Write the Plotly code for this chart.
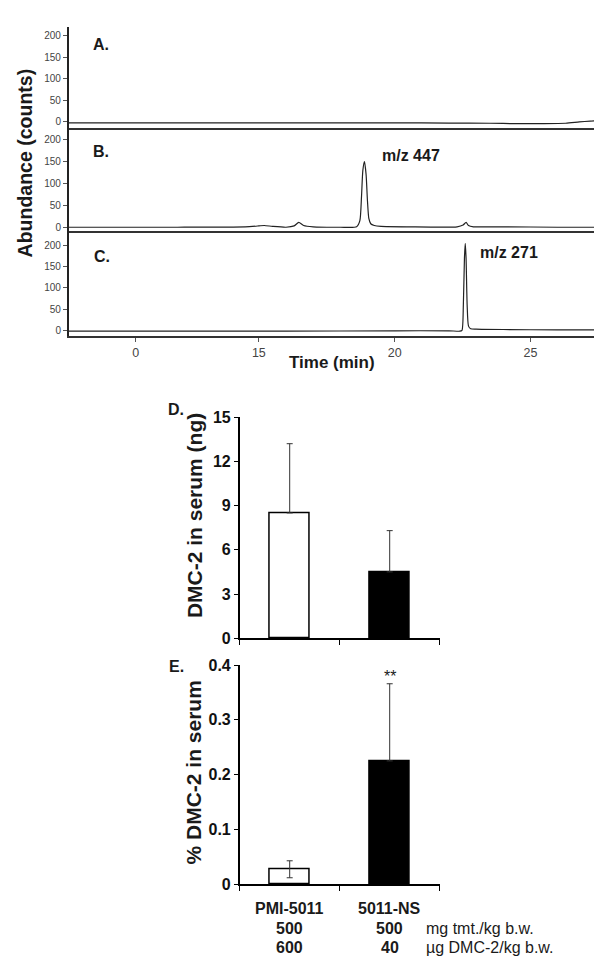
import plotly.graph_objects as go

W, H = 602, 972

# ---------------- Data: chromatograms ----------------
TIME_A = [8.0, 10.0, 12.0, 14.0, 16.0, 18.0, 20.0, 22.0, 23.5, 24.5, 25.5, 26.3, 26.8, 27.2, 27.5]
ABUND_A = [-2, -2, -2, -2, -2, -2, -2, -2.5, -3, -4, -4, -3, 0, 2, 3]

TIME_B = [8.0, 12.0, 14.5, 15.0, 15.2, 15.5, 16.0, 16.3, 16.47, 16.65, 17.0, 18.0, 18.6,
          18.72, 18.78, 18.83, 18.89, 18.95, 19.0, 19.05, 19.12, 19.25, 19.5, 20.5,
          22.3, 22.52, 22.63, 22.72, 22.9, 24.0, 26.0, 27.5]
ABUND_B = [0, 0, 1, 3, 4, 2, 0, 3, 11, 4, 1, 0, 1,
           15, 70, 130, 150, 120, 60, 20, 8, 4, 2, 1,
           1, 5, 11, 4, 1, 1, 0, 0]

TIME_C = [8.0, 12.0, 16.0, 20.0, 22.0, 22.4, 22.48, 22.53, 22.57, 22.60, 22.63, 22.67,
          22.72, 22.8, 23.0, 24.0, 26.0, 27.5]
ABUND_C = [-2, -2, -2, -1, -1, -2, 0, 60, 170, 205, 170, 60,
           10, 4, 3, 2, 1, 1]

TIME_TICKS = [10.47, 15, 20, 25]
TIME_TICK_LABELS = ["0", "15", "20", "25"]
ABUND_TICKS = [0, 50, 100, 150, 200]

# ---------------- Data: bar charts ----------------
CATEGORIES = ["PMI-5011", "5011-NS"]
DOSE_TMT = ["500", "500"]
DOSE_DMC = ["600", "40"]
SERUM_NG = [8.5, 4.5]
SERUM_NG_SD = [4.7, 2.8]
SERUM_PCT = [0.027, 0.225]
SERUM_PCT_SD = [0.0155, 0.141]
NG_TICKS = [0, 3, 6, 9, 12, 15]
PCT_TICKS = [0, 0.1, 0.2, 0.3, 0.4]
CAT_POS = [0.5, 1.5]

FONT = "Liberation Sans"
LINE = "#222222"


def px_x(p):
    return p / W


def px_y(p):
    return 1 - p / H


fig = go.Figure()

# chromatogram traces
for i, (t, a) in enumerate([(TIME_A, ABUND_A), (TIME_B, ABUND_B), (TIME_C, ABUND_C)], start=1):
    fig.add_trace(go.Scatter(
        x=t, y=a, mode="lines", line=dict(color=LINE, width=1.2, shape="spline", smoothing=0.6),
        xaxis=f"x{'' if i == 1 else i}", yaxis=f"y{'' if i == 1 else i}",
        showlegend=False, hoverinfo="skip"))

# bar D (error bars drawn upward only)
fig.add_trace(go.Bar(
    x=CAT_POS, y=SERUM_NG, width=0.4,
    marker=dict(color=["white", "black"], line=dict(color="black", width=1.5)),
    error_y=dict(type="data", symmetric=False, array=SERUM_NG_SD, arrayminus=[0, 0],
                 color="#333333", thickness=1, width=3),
    xaxis="x4", yaxis="y4", showlegend=False))

# bar E (lower whisker hidden by the filled bar)
fig.add_trace(go.Bar(
    x=CAT_POS, y=SERUM_PCT, width=0.4,
    marker=dict(color=["white", "black"], line=dict(color="black", width=1.5)),
    error_y=dict(type="data", symmetric=False, array=SERUM_PCT_SD,
                 arrayminus=[SERUM_PCT_SD[0], 0],
                 color="#333333", thickness=1, width=3),
    xaxis="x5", yaxis="y5", showlegend=False))

chrom_x_dom = [px_x(60.7), px_x(591.7)]
panels = {1: (11, 114, [-14, 220]), 2: (114, 219, [-9, 227]), 3: (219, 326, [-14, 234])}

layout = dict(
    width=W, height=H, margin=dict(l=0, r=0, t=0, b=0),
    paper_bgcolor="white", plot_bgcolor="white",
    font=dict(family=FONT, color="#222222"),
    showlegend=False, bargap=0,
)

for i, (top, bot, yr) in panels.items():
    sfx = "" if i == 1 else str(i)
    xa = dict(domain=chrom_x_dom, range=[8.0, 27.55], anchor=f"y{sfx}",
              showline=True, linecolor="#333333", linewidth=1.5,
              showgrid=False, zeroline=False)
    if i == 3:
        xa.update(tickvals=TIME_TICKS, ticktext=TIME_TICK_LABELS, ticks="outside",
                  ticklen=4, tickcolor="#555555",
                  tickfont=dict(size=12.5, color="#444444", family=FONT))
    else:
        xa.update(showticklabels=False, ticks="")
    ya = dict(domain=[px_y(bot), px_y(top)], range=yr, anchor=f"x{sfx}",
              showline=True, linecolor="#222222", linewidth=1.5,
              tickvals=ABUND_TICKS, ticks="outside", ticklen=4, tickcolor="#555555",
              tickfont=dict(size=10, color="#444444", family=FONT),
              showgrid=False, zeroline=False)
    layout[f"xaxis{sfx}"] = xa
    layout[f"yaxis{sfx}"] = ya

bar_x_dom = [px_x(231.7), px_x(431.7)]
for i, (top, bot, yr, tv, tt) in {
        4: (408.3, 633.3, [0, 15], NG_TICKS, [str(v) for v in NG_TICKS]),
        5: (660.7, 883.5, [0, 0.4], PCT_TICKS, ["0", "0.1", "0.2", "0.3", "0.4"])}.items():
    layout[f"xaxis{i}"] = dict(domain=bar_x_dom, range=[0, 2], anchor=f"y{i}",
                               tickvals=[0, 1, 2], showticklabels=False, ticks="outside",
                               ticklen=5, tickcolor="black", showline=True,
                               linecolor="black", linewidth=1.5, showgrid=False, zeroline=False)
    layout[f"yaxis{i}"] = dict(domain=[px_y(bot), px_y(top)], range=yr, anchor=f"x{i}",
                               tickvals=tv, ticktext=tt, ticks="outside", ticklen=4,
                               tickcolor="black", showline=True, linecolor="black",
                               linewidth=1.5, showgrid=False, zeroline=False,
                               tickfont=dict(size=16, color="#111111", family=FONT,
                                             weight="bold"))

fig.update_layout(**layout)

ann = []


def add_text(text, x, y, size, bold=True, xanchor="center", yanchor="middle",
             angle=0, xref="paper", color="#1a1a1a"):
    ann.append(dict(text=text, x=x, y=y, xref=xref, yref="paper", showarrow=False,
                    xanchor=xanchor, yanchor=yanchor, textangle=angle,
                    font=dict(family=FONT, size=size, color=color,
                              weight="bold" if bold else "normal")))


# chromatogram labels
add_text("A.", px_x(83), px_y(28.5), 16, xanchor="left")
add_text("B.", px_x(83), px_y(137.5), 16, xanchor="left")
add_text("C.", px_x(84), px_y(245), 16, xanchor="left")
add_text("m/z 447", px_x(371.7), px_y(141.7), 16, xanchor="left")
add_text("m/z 271", px_x(470), px_y(240.7), 16, xanchor="left")
add_text("Abundance (counts)", px_x(17), px_y(150), 19.5, angle=-90)
add_text("Time (min)", px_x(324), px_y(352.7), 17)

# bar chart labels
add_text("D.", px_x(168), px_y(400), 16)
add_text("E.", px_x(168), px_y(662), 16)
add_text("DMC-2 in serum (ng)", px_x(186), px_y(509), 21, angle=-90)
add_text("% DMC-2 in serum", px_x(186), px_y(770), 21, angle=-90)
add_text("**", CAT_POS[1], px_y(672), 16, bold=False, xref="x5")

for j, cat in enumerate(CATEGORIES):
    add_text(cat, CAT_POS[j], px_y(908), 16, xref="x5")
    add_text(DOSE_TMT[j], CAT_POS[j], px_y(928.3), 16, xref="x5")
    add_text(DOSE_DMC[j], CAT_POS[j], px_y(948.3), 16, xref="x5")
add_text("mg tmt./kg b.w.", px_x(416), px_y(928.3), 16, bold=False, xanchor="left")
add_text("\u00b5g DMC-2/kg b.w.", px_x(416), px_y(948.3), 16, bold=False, xanchor="left")

fig.update_layout(annotations=ann)

fig.write_html("out.html")
